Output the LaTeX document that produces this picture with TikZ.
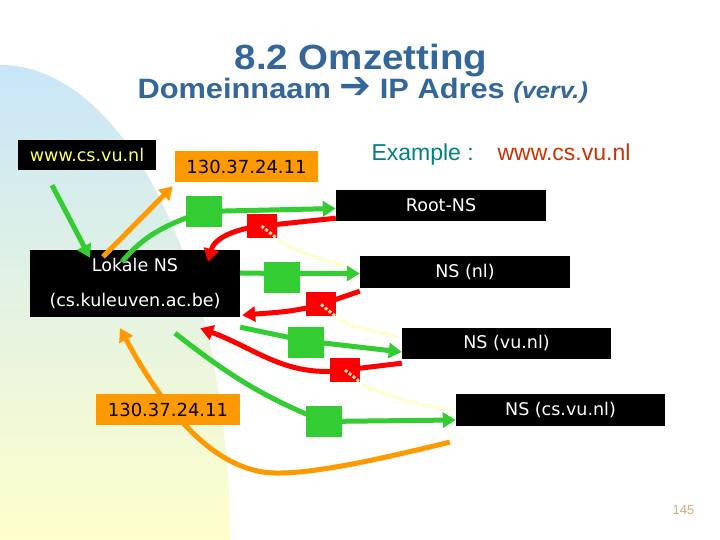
\documentclass[tikz,border=0pt]{standalone}
\usepackage{fontspec}
\setmainfont{Liberation Sans}
\newfontfamily\boxfont{DejaVu Sans}
\newfontfamily\symfont{DejaVu Sans}
\newfontfamily\headfont[FakeStretch=1.1]{Liberation Sans}
\usepackage{tikz}
\usetikzlibrary{arrows.meta, positioning}
\usepackage{xcolor}
\definecolor{headblue}{RGB}{51,102,153}
\definecolor{exteal}{RGB}{0,128,128}
\definecolor{exred}{RGB}{204,51,0}
\definecolor{urlyellow}{RGB}{255,255,102}
\definecolor{iporange}{RGB}{255,153,0}
\definecolor{qgreen}{RGB}{51,204,51}
\definecolor{rred}{RGB}{255,0,0}
\definecolor{trailyellow}{RGB}{255,255,204}
\definecolor{dotcream}{RGB}{255,224,170}
\definecolor{bgblue}{RGB}{200,230,248}
\definecolor{bgyellow}{RGB}{255,255,204}
\definecolor{pagenum}{RGB}{214,170,130}
\tikzstyle{nsbox} = [rectangle, fill=black, text=white, inner sep=0pt, minimum width=210pt, minimum height=31pt, font=\boxfont\fontsize{17.5}{21}\selectfont]
\tikzstyle{ipbox} = [nsbox, fill=iporange, text=black, minimum width=144pt, font=\boxfont\fontsize{18}{21}\selectfont]
\tikzstyle{packet} = [rectangle, fill=qgreen, inner sep=0pt, minimum width=36pt, minimum height=31pt]
\tikzstyle{refpacket} = [rectangle, fill=rred, inner sep=0pt, minimum width=30pt, minimum height=24pt]
\tikzstyle{query} = [line width=5pt, draw=qgreen, ->, >={Triangle[length=13pt,width=15pt]}]
\tikzstyle{referral} = [query, draw=rred]
\tikzstyle{answer} = [query, draw=iporange]
\tikzstyle{trail} = [line width=3pt, draw=trailyellow]
\tikzstyle{trailstep} = [line width=3pt, draw=dotcream, dash pattern=on 3pt off 2pt]

\begin{document}
\begin{tikzpicture}[x=1pt, y=1pt]
  % slide
  \useasboundingbox (0,0) rectangle (720,540);
  \fill[white] (0,0) rectangle (720,540);
  \shade[top color=bgblue, bottom color=bgyellow] (0,0) -- (0,475) arc[start angle=90, end angle=0, x radius=230, y radius=475] -- cycle;

  % heading
  \node[anchor=base, text=headblue, font=\headfont\bfseries\fontsize{35}{35}\selectfont] (title) at (361,470) {8.2 Omzetting};
  \node[anchor=base west, text=headblue, font=\headfont\bfseries\fontsize{28}{28}\selectfont] (subtitle) at (134,441) {Domeinnaam {\symfont\fontsize{38}{38}\selectfont ➔} IP Adres {\fontsize{23}{23}\selectfont\itshape (verv.)}};
  \node[anchor=base west, text=exteal, font=\fontsize{23}{23}\selectfont] (exlabel) at (368,379) {Example :};
  \node[anchor=base west, text=exred, font=\fontsize{23}{23}\selectfont] (exname) at (494,379) {www.cs.vu.nl};

  % servers
  \node[nsbox, text=urlyellow, minimum width=138pt, minimum height=30pt] (url) at (87,385) {www.cs.vu.nl};
  \node[ipbox, minimum width=143pt] (ip1) at (246.5,373.5) {130.37.24.11};
  \node[nsbox] (root) at (441,334.5) {Root-NS};
  \node[nsbox, minimum height=67pt, align=center, font=\boxfont\fontsize{17.5}{35}\selectfont] (lokal) at (135,256.5) {Lokale NS\\(cs.kuleuven.ac.be)};
  \node[nsbox, minimum height=32pt] (nl) at (465,268) {NS (nl)};
  \node[nsbox, minimum width=209pt] (vunl) at (506.5,196.5) {NS (vu.nl)};
  \node[nsbox, minimum width=209pt, minimum height=32pt] (csvu) at (560.5,130) {NS (cs.vu.nl)};

  % queries and referrals
  \draw[query] ([xshift=-35pt,yshift=-15pt]url.south) -- ([xshift=-45pt,yshift=-8pt]lokal.north);
  \draw[query] ([xshift=-13pt,yshift=-12pt]lokal.north) to[out=50,in=200] (203.5,328.5) node[packet] (g1) {} -- ([yshift=-3pt]root.west);
  \draw[referral] ([yshift=3pt]root.south west) -- (261.5,314) node[refpacket] (r1) {} to[out=186,in=75] ([xshift=73pt,yshift=-12pt]lokal.north);
  \draw[query] ([yshift=10.5pt]lokal.east) -- (281.5,266.5) node[packet, yshift=-4pt] (g2) {} -- ([yshift=-1.5pt]nl.west);
  \draw[referral] ([yshift=-3pt]nl.south west) -- (321,235.5) node[refpacket] (r2) {} to[out=195,in=5] ([xshift=2pt,yshift=2pt]lokal.south east);
  \draw[query] ([yshift=-10pt]lokal.south east) -- (306,199) node[packet, yshift=-2pt] (g3) {} -- ([yshift=-8.5pt]vunl.west);
  \draw[referral] ([yshift=-4pt]vunl.south west) -- (345,170) node[refpacket] (r3) {} to[out=188,in=-20] ([xshift=-40pt,yshift=-11pt]lokal.south east);
  \draw[query] ([xshift=40pt,yshift=-16pt]lokal.south) to[out=-38,in=158] (324,118.5) node[packet] (g4) {} -- ([yshift=-10pt]csvu.west);

  % answers
  \draw[answer] ([xshift=-32pt,yshift=-7pt]lokal.north) -- ([xshift=-2pt,yshift=-4pt]ip1.south west);
  \draw[answer] ([xshift=-6pt,yshift=-16pt]csvu.south west) .. controls (400,86) and (320,66) .. (275,67) .. controls (225,68) and (175,110) .. ([xshift=-15pt,yshift=-11pt]lokal.south);

  % traces of the referrals
  \draw[trail] (r1.south east) to[out=-30,in=165] ([xshift=-14pt,yshift=6pt]nl.west);
  \draw[trail] (r2.south east) to[out=-30,in=160] ([xshift=-4pt,yshift=6pt]vunl.west);
  \draw[trail] (r3.south east) to[out=-25,in=170] ([xshift=-5pt]csvu.west);
  \foreach \r in {r1,r2,r3}
    \draw[trailstep] (\r.center) -- ([shift={(-2pt,2pt)}]\r.south east);

  \node[ipbox, minimum width=144pt] (ip2) at (168,130) {130.37.24.11};
  \node[text=pagenum, font=\fontsize{13}{13}\selectfont] (page) at (683.5,30) {145};
\end{tikzpicture}
\end{document}
